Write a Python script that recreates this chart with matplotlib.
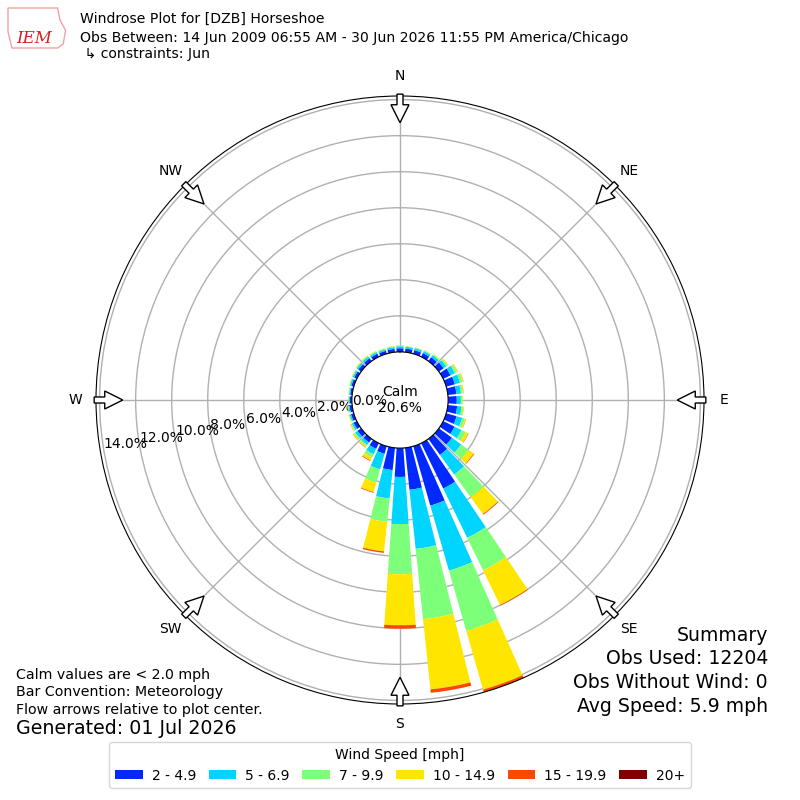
import numpy as np
import matplotlib
matplotlib.use("Agg")
import matplotlib.pyplot as plt
from matplotlib.patches import FancyArrow, Polygon

# direction of each bar (deg, meteorological: direction wind blows from)
directions = np.arange(10, 370, 10)

# percent of observations per direction, one list per speed bin
spd_2_5 = [0.20, 0.21, 0.23, 0.27, 0.33, 0.45, 0.50, 0.48, 0.48, 0.52, 0.60, 0.70,
           0.90, 1.10, 2.80, 3.43, 2.34, 1.60, 1.24, 0.44, 0.35, 0.25, 0.25, 0.20,
           0.16, 0.14, 0.11, 0.11, 0.14, 0.16, 0.19, 0.20, 0.19, 0.17, 0.18, 0.20]
spd_5_7 = [0.10, 0.11, 0.12, 0.14, 0.18, 0.27, 0.30, 0.25, 0.23, 0.25, 0.32, 0.43,
           0.63, 1.35, 3.04, 3.75, 3.30, 2.62, 1.59, 0.89, 0.33, 0.16, 0.15, 0.11,
           0.08, 0.07, 0.06, 0.06, 0.08, 0.09, 0.11, 0.11, 0.10, 0.09, 0.10, 0.11]
spd_7_10 = [0.04, 0.04, 0.05, 0.06, 0.09, 0.11, 0.14, 0.10, 0.09, 0.10, 0.15, 0.26,
            0.50, 1.55, 2.01, 3.48, 3.92, 2.78, 1.30, 0.77, 0.20, 0.10, 0.10, 0.06,
            0.05, 0.04, 0.03, 0.03, 0.04, 0.05, 0.05, 0.06, 0.05, 0.05, 0.05, 0.04]
spd_10_15 = [0.01, 0.02, 0.02, 0.03, 0.05, 0.06, 0.06, 0.05, 0.04, 0.05, 0.07, 0.16,
             0.36, 1.15, 2.14, 3.39, 3.92, 2.83, 1.65, 0.55, 0.18, 0.07, 0.07, 0.04,
             0.03, 0.03, 0.02, 0.02, 0.02, 0.02, 0.03, 0.03, 0.03, 0.02, 0.02, 0.02]
spd_15_20 = [0.00, 0.00, 0.00, 0.00, 0.00, 0.01, 0.01, 0.01, 0.00, 0.00, 0.01, 0.02,
             0.04, 0.05, 0.04, 0.15, 0.19, 0.19, 0.08, 0.04, 0.04, 0.02, 0.01, 0.01,
             0.00, 0.00, 0.00, 0.00, 0.00, 0.00, 0.00, 0.00, 0.00, 0.00, 0.00, 0.00]
spd_20 = [0.0] * 36

bins = [spd_2_5, spd_5_7, spd_7_10, spd_10_15, spd_15_20, spd_20]
bin_labels = ["2 - 4.9", "5 - 6.9", "7 - 9.9", "10 - 14.9", "15 - 19.9", "20+"]
compass = ["N", "NE", "E", "SE", "S", "SW", "W", "NW"]
rings = np.arange(0, 15, 2)
calm_pct = 20.6
rmax = 14.2

fig = plt.figure(figsize=(8, 8), dpi=100)
ax = fig.add_axes([0.12, 0.12, 0.76, 0.76], projection="polar")
ax.set_theta_zero_location("N")
ax.set_theta_direction(-1)

colors = plt.get_cmap("jet")(np.linspace(0, 1, 7)[1:])
theta = np.radians(directions)
bottom = np.zeros(36)
for vals, c, lab in zip(bins, colors, bin_labels):
    vals = np.array(vals)
    ax.bar(theta, vals, width=np.radians(8), bottom=bottom, color=c,
           edgecolor="none", label=lab, zorder=2)
    bottom += vals

ax.set_ylim(0, rmax)
ax.set_rorigin(-rmax * 0.188)
ax.set_rgrids(rings, labels=["%.1f%%" % r for r in rings], angle=260.3)
ax.set_xticks(np.radians(np.arange(0, 360, 45)))
ax.set_xticklabels(compass)
ax.tick_params(axis="x", pad=4, labelsize=10)
ax.tick_params(axis="y", labelsize=10)
ax.grid(True, color="#b0b0b0", lw=1)
ax.set_axisbelow(True)

ax.text(0.5, 0.5, "Calm\n%.1f%%" % calm_pct, transform=ax.transAxes,
        ha="center", va="center", fontsize=10, zorder=5)

# flow arrows at the rim, pointing to the centre
for ang in np.radians(np.arange(0, 360, 45)):
    r0, r1 = 0.503, 0.456
    x0 = 0.5 + r0 * np.sin(ang)
    y0 = 0.5 + r0 * np.cos(ang)
    dx = (r1 - r0) * np.sin(ang)
    dy = (r1 - r0) * np.cos(ang)
    ax.add_patch(FancyArrow(x0, y0, dx, dy, width=0.0099, head_width=0.0296,
                            head_length=0.0296, length_includes_head=True,
                            fc="white", ec="black", lw=1,
                            transform=ax.transAxes, clip_on=False, zorder=6))

# header
fig.text(0.1, 0.977, "Windrose Plot for [DZB] Horseshoe", fontsize=10.1, va="center")
fig.text(0.1, 0.953,
         "Obs Between: 14 Jun 2009 06:55 AM - 30 Jun 2026 11:55 PM America/Chicago",
         fontsize=10.1, va="center")
fig.text(0.1, 0.932, " \u21b3 constraints: Jun", fontsize=10.1, va="center")

# logo stand-in
fig.patches.append(Polygon([[0.01, 0.99], [0.072, 0.99], [0.075, 0.975],
                            [0.082, 0.962], [0.079, 0.945], [0.072, 0.94],
                            [0.015, 0.94], [0.01, 0.96]], closed=True,
                           transform=fig.transFigure, fc="none",
                           ec="#f4a0a0", lw=1))
fig.text(0.043, 0.952, "IEM", color="#d42020", fontsize=12, style="italic",
         family="serif", ha="center", va="center")

# footer text
fig.text(0.02, 0.156, "Calm values are < 2.0 mph", fontsize=10.2, va="center")
fig.text(0.02, 0.135, "Bar Convention: Meteorology", fontsize=10.2, va="center")
fig.text(0.02, 0.113, "Flow arrows relative to plot center.", fontsize=10.2, va="center")
fig.text(0.02, 0.089, "Generated: 01 Jul 2026", fontsize=13.7, va="center")

summary = ["Summary", "Obs Used: 12204", "Obs Without Wind: 0", "Avg Speed: 5.9 mph"]
for i, s in enumerate(summary):
    fig.text(0.96, 0.206 - i * 0.0295, s, fontsize=13.6, ha="right", va="center")

fig.legend(loc="lower center", bbox_to_anchor=(0.5, 0.006), ncol=6,
           title="Wind Speed [mph]", fontsize=10, title_fontsize=10,
           handlelength=2.0, handleheight=0.6, handletextpad=0.65,
           columnspacing=0.9)

fig.savefig("out.png", dpi=100)
